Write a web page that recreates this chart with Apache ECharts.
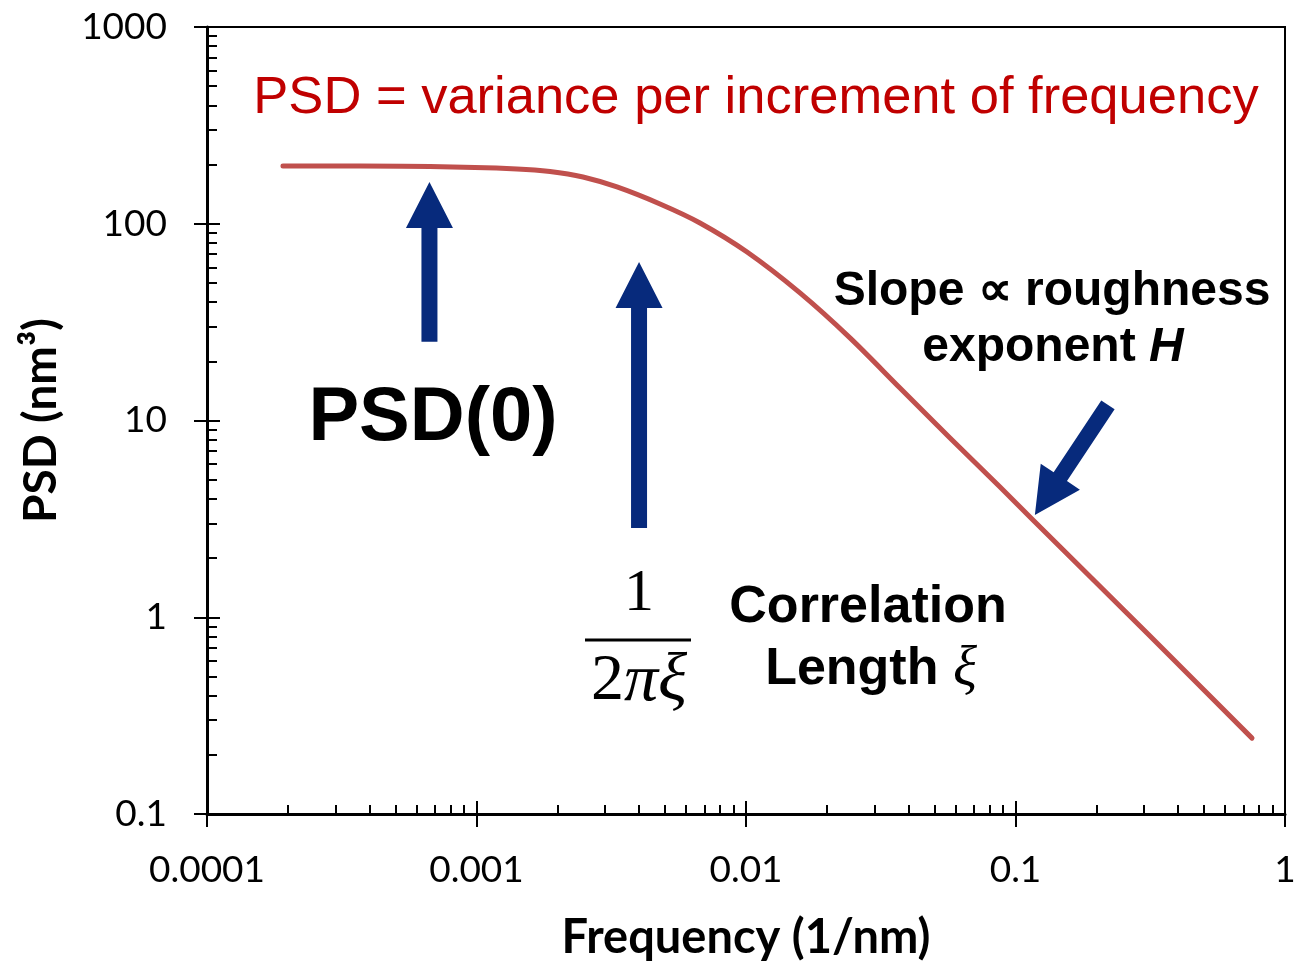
<!DOCTYPE html>
<html><head><meta charset="utf-8">
<script src="https://cdn.jsdelivr.net/npm/echarts@6/dist/echarts.min.js"></script>
<style>html,body{margin:0;padding:0;background:#fff}#c{width:1304px;height:963px}</style>
</head><body><div id="c"></div>
<script>
// ---- data ----
const frequency = [1.914e-4, 2.985e-4, 6.72e-4, 1.413e-3, 1.874e-3, 2.484e-3, 3.321e-3, 4.797e-3, 6.75e-3, 0.01009, 0.01586, 0.02431, 0.03727, 0.05715, 0.08762, 0.1161, 0.3155, 0.7543];
const psd       = [196.7,    196.5,    195.4,   190.0,    184.5,    172.9,    153.8,    126.0,    100.9,   71.8,    44.5,    26.3,    14.63,   8.15,    4.59,    3.12,   0.803,  0.243];
const xTickValues = [0.0001, 0.001, 0.01, 0.1, 1];
const xTickLabels = ['0.0001', '0.001', '0.01', '0.1', '1'];
const yTickValues = [0.1, 1, 10, 100, 1000];
const yTickLabels = ['0.1', '1', '10', '100', '1000'];
// annotation arrows in data coordinates: [tailF, tailPSD, tipF, tipPSD]
const arrowPSD0 = [6.69e-4, 25.1, 6.69e-4, 163];
const arrowCorr = [4.01e-3, 2.84, 4.01e-3, 63.9];
const arrowSlope = [0.2203, 12.0, 0.118, 3.31];

const minorFactors = [2, 3, 4, 5, 6, 7, 8, 9];
function minorLogs(vals) {
  const out = [];
  for (let i = 0; i < vals.length - 1; i++) minorFactors.forEach(k => out.push(Math.log10(vals[i] * k)));
  return out;
}
const xMajorLog = xTickValues.map(v => Math.log10(v));
const yMajorLog = yTickValues.map(v => Math.log10(v));
const xMinorLog = minorLogs(xTickValues);
const yMinorLog = minorLogs(yTickValues);

function labelFor(vals, labels) {
  return function (v) {
    const i = vals.findIndex(t => Math.abs(Math.log10(t) - Math.log10(v)) < 1e-6);
    return i >= 0 ? labels[i] : '';
  };
}

const G = { left: 207, right: 19, top: 27, bottom: 149, containLabel: false, outerBoundsMode: 'none' };
const tickFont = 'Lato';
const chart = echarts.init(document.getElementById('c'), null, { renderer: 'canvas' });

function decoAxis(gridIndex, min, max, vals, len) {
  return {
    type: 'value', gridIndex, min, max,
    axisLine: { show: false, onZero: false },
    axisLabel: { show: false },
    splitLine: { show: false },
    axisTick: { show: true, inside: true, length: len, customValues: vals, lineStyle: { color: '#000', width: 2 } }
  };
}

const option = {
  animation: false,
  backgroundColor: '#fff',
  grid: [
    Object.assign({ show: true, borderColor: '#000', borderWidth: 2, backgroundColor: 'transparent' }, G),
    Object.assign({}, G),
    Object.assign({}, G)
  ],
  xAxis: [
    {
      type: 'log', logBase: 10, gridIndex: 0, min: 0.0001, max: 1,
      axisLine: { show: true, onZero: false, lineStyle: { color: '#000', width: 3 } },
      axisTick: { show: true, inside: false, length: 13, lineStyle: { color: '#000', width: 2 } },
      minorTick: { show: false },
      splitLine: { show: false },
      axisLabel: { color: '#000', fontFamily: tickFont, fontSize: 37, margin: 38, formatter: labelFor(xTickValues, xTickLabels) },
      name: 'Frequency (1/nm)', nameLocation: 'middle', nameGap: 100,
      nameTextStyle: { color: '#000', fontFamily: 'Lato', fontWeight: 'bold', fontSize: 47 }
    },
    decoAxis(1, -4, 0, xMinorLog, 9),
    decoAxis(2, -4, 0, xMajorLog, 13)
  ],
  yAxis: [
    {
      type: 'log', logBase: 10, gridIndex: 0, min: 0.1, max: 1000,
      axisLine: { show: true, onZero: false, lineStyle: { color: '#000', width: 3 } },
      axisTick: { show: true, inside: false, length: 13, lineStyle: { color: '#000', width: 2 } },
      minorTick: { show: false },
      splitLine: { show: false },
      axisLabel: { color: '#000', fontFamily: tickFont, fontSize: 37, margin: 40, formatter: labelFor(yTickValues, yTickLabels) },
      name: 'PSD (nm³)', nameLocation: 'middle', nameGap: 143, nameRotate: 90,
      nameTextStyle: { color: '#000', fontFamily: 'Lato', fontWeight: 'bold', fontSize: 46 }
    },
    decoAxis(1, -1, 3, yMinorLog, 10),
    decoAxis(2, -1, 3, yMajorLog, 13)
  ],
  series: [{
    type: 'line', xAxisIndex: 0, yAxisIndex: 0,
    data: frequency.map((f, i) => [f, psd[i]]),
    showSymbol: false, smooth: 0.3,
    lineStyle: { color: '#C0504D', width: 5, cap: 'round', join: 'round' },
    z: 3
  }]
};
chart.setOption(option);

function arrowPolygon(a) {
  const t = chart.convertToPixel({ gridIndex: 0 }, [a[0], a[1]]);
  const p = chart.convertToPixel({ gridIndex: 0 }, [a[2], a[3]]);
  const dx = p[0] - t[0], dy = p[1] - t[1];
  const L = Math.hypot(dx, dy);
  const ux = dx / L, uy = dy / L, nx = -uy, ny = ux;
  const hl = 46, hw = 23.5, sw = 8;
  const bx = p[0] - ux * hl, by = p[1] - uy * hl;
  return {
    type: 'polygon', z: 10,
    shape: { points: [
      [t[0] + nx * sw, t[1] + ny * sw], [bx + nx * sw, by + ny * sw], [bx + nx * hw, by + ny * hw],
      [p[0], p[1]],
      [bx - nx * hw, by - ny * hw], [bx - nx * sw, by - ny * sw], [t[0] - nx * sw, t[1] - ny * sw]
    ] },
    style: { fill: '#072A7C' }
  };
}

function txt(x, y, text, font, fill, rich) {
  const s = { text, font, fill: fill || '#000', align: 'center', verticalAlign: 'middle', textAlign: 'center', textVerticalAlign: 'middle' };
  if (rich) s.rich = rich;
  return { type: 'text', x, y, z: 10, style: s };
}

chart.setOption({
  graphic: [
    arrowPolygon(arrowPSD0), arrowPolygon(arrowCorr), arrowPolygon(arrowSlope),
    txt(756, 99, 'PSD = variance per increment of frequency', '52.5px "Liberation Sans"', '#C00000'),
    txt(433, 419, 'PSD(0)', 'bold 76px "Liberation Sans"'),
    txt(1052, 292, 'Slope ∝ roughness', 'bold 48px "Liberation Sans"'),
    txt(1053, 348, '{b|exponent }{i|H}', 'bold 48px "Liberation Sans"', '#000', {
      b: { font: 'bold 48px "Liberation Sans"', fill: '#000' },
      i: { font: 'italic bold 48px "Liberation Sans"', fill: '#000' }
    }),
    txt(868, 608, 'Correlation', 'bold 52px "Liberation Sans"'),
    txt(871, 670, '{b|Length }{g|ξ}', 'bold 52px "Liberation Sans"', '#000', {
      b: { font: 'bold 52px "Liberation Sans"', fill: '#000' },
      g: { font: 'italic 56px "Liberation Serif"', fill: '#000' }
    }),
    txt(639, 594, '1', '60px "Liberation Serif"'),
    { type: 'line', z: 10, shape: { x1: 585, y1: 640, x2: 691, y2: 640 }, style: { stroke: '#000', lineWidth: 3 } },
    txt(639, 682, '{r|2}{i|πξ}', '68px "Liberation Serif"', '#000', {
      r: { font: '66px "Liberation Serif"', fill: '#000' },
      i: { font: 'italic 68px "Liberation Serif"', fill: '#000' }
    })
  ]
});
</script>
</body></html>
